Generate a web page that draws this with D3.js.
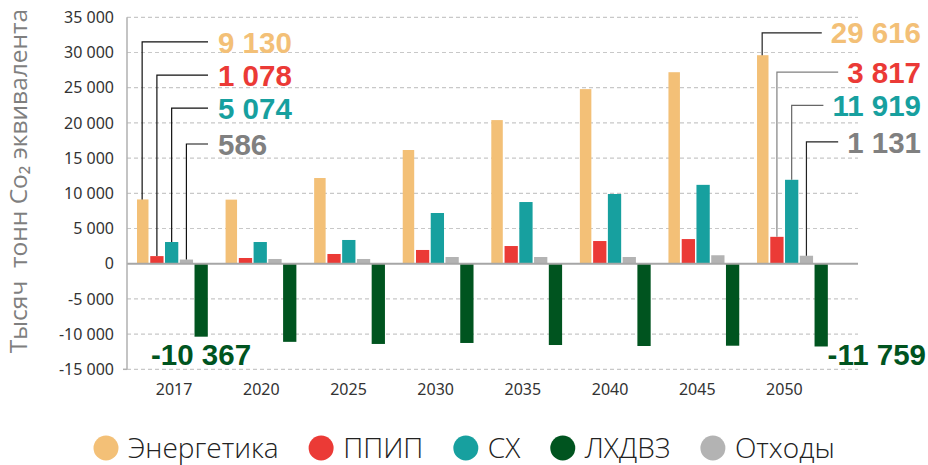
<!DOCTYPE html>
<html lang="ru">
<head>
  <meta charset="UTF-8">
  <title>Выбросы по секторам</title>
  <script src="https://d3js.org/d3.v7.min.js"></script>
  <style>
    body, html {
      margin: 0;
      padding: 0;
      background: #fff;
    }
    svg { display: block; }
    .tick-label { font-family: "Noto Sans", sans-serif; font-size: 16px; fill: #333; }
    .grid line { stroke: #c8c8c8; stroke-width: 1.2px; stroke-dasharray: 4 3; }
    .value-label { font-family: "Liberation Sans", "Noto Sans", sans-serif; font-weight: 700; font-size: 29.5px; }
    .legend-text { font-family: "Open Sans", "Noto Sans", sans-serif; font-weight: 300; font-size: 28px; fill: #222; }
    .y-title { font-family: "Open Sans", "Noto Sans", sans-serif; font-weight: 400; font-size: 24.5px; fill: #7f7f7f; white-space: pre; }
  </style>
</head>
<body>
  <svg id="chart" width="928" height="465"></svg>

  <script>
    // categories and series
    const years = ["2017", "2020", "2025", "2030", "2035", "2040", "2045", "2050"];
    const seriesNames = ["Энергетика", "ППИП", "СХ", "ЛХДВЗ", "Отходы"];
    const seriesColors = ["#F3C077", "#EB3A36", "#17A09F", "#00541F", "#B3B3B3"];
    const labelColors = ["#F3C077", "#EB3A36", "#17A09F", "#00541F", "#808080"];

    // values, thousand tonnes CO2-eq
    const energy = [9130, 9100, 12170, 16150, 20400, 24800, 27200, 29616];
    const industry = [1078, 810, 1380, 1950, 2510, 3220, 3500, 3817];
    const agriculture = [3080, 3080, 3370, 7200, 8760, 9900, 11200, 11919];
    const forestry = [-10367, -11100, -11400, -11260, -11550, -11690, -11650, -11759];
    const waste = [586, 670, 670, 950, 950, 950, 1200, 1131];

    // printed labels for first and last year
    const labels2017 = [9130, 1078, 5074, -10367, 586];
    const labels2050 = [29616, 3817, 11919, -11759, 1131];

    const yTicks = [-15000, -10000, -5000, 0, 5000, 10000, 15000, 20000, 25000, 30000, 35000];

    const values = [energy, industry, agriculture, forestry, waste];
    // bar order inside a group: Энергетика, ППИП, СХ, Отходы, ЛХДВЗ
    const barOrder = [0, 1, 2, 4, 3];

    const ru = d3.formatLocale({ decimal: ",", thousands: " ", grouping: [3], currency: ["", ""], minus: "-" });
    const fmt = ru.format(",d");

    const svg = d3.select("#chart");
    const plotLeft = 127, plotRight = 858, plotTop = 17.3, plotBottom = 369.3;

    const y = d3.scaleLinear().domain([-15000, 35000]).range([plotBottom, plotTop]);
    const x = d3.scaleBand().domain(years).range([plotLeft, 835.6]);
    const xAxisScale = d3.scaleBand().domain(years).range([130.5, 828]);
    const inner = d3.scaleBand().domain(barOrder).range([8.5, 8.5 + 72.3]).paddingInner(0.1);

    // gridlines
    svg.append("g").attr("class", "grid")
      .selectAll("line").data(yTicks.filter(d => d !== 0)).join("line")
      .attr("x1", plotLeft).attr("x2", plotRight)
      .attr("y1", d => y(d)).attr("y2", d => y(d));

    // y tick labels
    svg.append("g")
      .selectAll("text").data(yTicks).join("text")
      .attr("class", "tick-label")
      .attr("x", 114).attr("y", d => y(d)).attr("dy", "0.36em")
      .attr("text-anchor", "end")
      .text(d => fmt(d));

    // y axis title
    svg.append("text").attr("class", "y-title")
      .attr("transform", `translate(27,181) rotate(-90)`)
      .attr("text-anchor", "middle")
      .text("Тысяч  тонн Co\u2082 эквивалента");

    // bars
    const groups = svg.append("g").selectAll("g").data(years).join("g")
      .attr("transform", d => `translate(${x(d)},0)`);

    groups.selectAll("rect")
      .data((yr, i) => barOrder.map(s => ({ s, v: values[s][i] })))
      .join("rect")
      .attr("x", d => inner(d.s) + (d.s === 0 ? 1.5 : 0))
      .attr("width", d => inner.bandwidth() - (d.s === 0 ? 1.8 : 0))
      .attr("y", d => y(Math.max(0, d.v)))
      .attr("height", d => Math.abs(y(d.v) - y(0)))
      .attr("fill", d => seriesColors[d.s]);

    // axis lines
    svg.append("line").attr("x1", plotLeft).attr("x2", plotRight).attr("y1", y(0)).attr("y2", y(0))
      .attr("stroke", "#a6a6a6").attr("stroke-width", 2);
    svg.append("line").attr("x1", plotLeft).attr("x2", plotLeft).attr("y1", plotTop).attr("y2", plotBottom)
      .attr("stroke", "#b0b0b0").attr("stroke-width", 1.5);
    svg.append("line").attr("x1", plotLeft - 4).attr("x2", plotLeft).attr("y1", plotBottom).attr("y2", plotBottom)
      .attr("stroke", "#b0b0b0").attr("stroke-width", 1.5);

    // x axis labels
    const xAxis = svg.append("g").attr("transform", `translate(0,${y(-15000)})`)
      .call(d3.axisBottom(xAxisScale).tickSize(0).tickPadding(0));
    xAxis.select(".domain").remove();
    xAxis.attr("font-family", null).attr("font-size", null);
    xAxis.selectAll("text").attr("class", "tick-label").attr("dy", null).attr("y", 26).attr("fill", null);

    // leader labels
    const leftLeaderY = [31500, 26800, 22100, 17000];
    const rightLeaderY = [32800, 27200, 22500, 17300];
    const rightLineColor = ["#222", "#808080", "#666", "#222"];
    const barCenter = (yr, s) => x(yr) + inner(s) + inner.bandwidth() / 2;
    const lines = svg.append("g");
    const texts = svg.append("g");

    [0, 1, 2, 4].forEach((s, k) => {
      const i0 = 0;
      const ly = y(leftLeaderY[k]);
      lines.append("path")
        .attr("d", `M${barCenter(years[i0], s)},${y(values[s][i0])}V${ly}H208`)
        .attr("fill", "none").attr("stroke", "#111").attr("stroke-width", 1.2);
      texts.append("text").attr("class", "value-label")
        .attr("x", 218).attr("y", ly).attr("dy", "0.36em")
        .attr("fill", labelColors[s])
        .text(fmt(labels2017[s]));

      const i1 = years.length - 1;
      const ry = y(rightLeaderY[k]);
      const t = texts.append("text").attr("class", "value-label")
        .attr("x", 921).attr("y", ry).attr("dy", "0.36em")
        .attr("text-anchor", "end")
        .attr("fill", labelColors[s])
        .text(fmt(labels2050[s]));
      const tx = 921 - t.node().getComputedTextLength() - 9;
      lines.append("path")
        .attr("d", `M${barCenter(years[i1], s)},${y(values[s][i1])}V${ry}H${tx}`)
        .attr("fill", "none").attr("stroke", rightLineColor[k]).attr("stroke-width", 1.2);
    });

    // negative labels
    texts.append("text").attr("class", "value-label")
      .attr("x", 151).attr("y", 354).attr("dy", "0.36em")
      .attr("fill", labelColors[3]).text(fmt(labels2017[3]));
    texts.append("text").attr("class", "value-label")
      .attr("x", 926).attr("y", 354).attr("dy", "0.36em").attr("text-anchor", "end")
      .attr("fill", labelColors[3]).text(fmt(labels2050[3]));

    // legend
    const legend = svg.append("g");
    let lx = 106;
    seriesNames.forEach((name, s) => {
      legend.append("circle").attr("cx", lx).attr("cy", 448).attr("r", 12.5).attr("fill", seriesColors[s]);
      const t = legend.append("text").attr("class", "legend-text")
        .attr("x", lx + 22).attr("y", 448).attr("dy", "0.36em").text(name);
      lx += 22 + t.node().getComputedTextLength() + 30 + 12.5;
    });
  </script>
</body>
</html>
